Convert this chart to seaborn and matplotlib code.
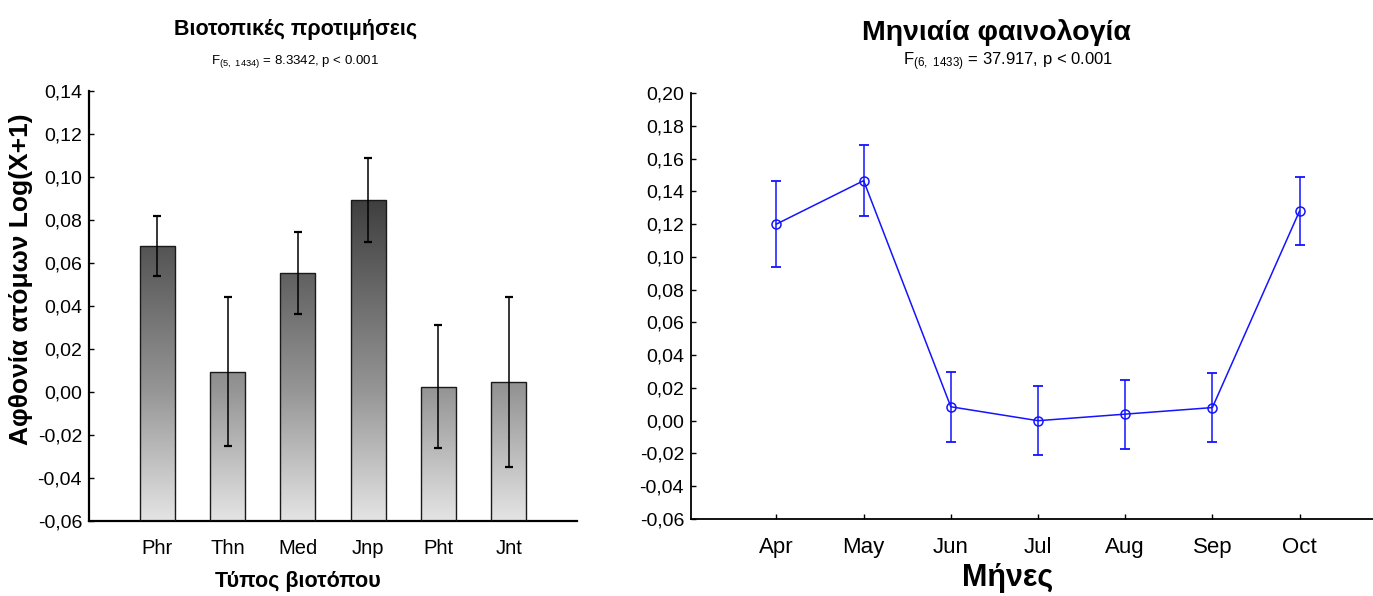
import numpy as np
import matplotlib
matplotlib.use("Agg")
import matplotlib.pyplot as plt
import seaborn as sns
from matplotlib.ticker import FuncFormatter
from matplotlib.colors import LinearSegmentedColormap

# ---- data ----
habitats = ["Phr", "Thn", "Med", "Jnp", "Pht", "Jnt"]
hab_mean = [0.068, 0.0095, 0.0555, 0.0895, 0.0025, 0.0045]
hab_err = [0.014, 0.0345, 0.019, 0.0195, 0.0285, 0.0395]

months = ["Apr", "May", "Jun", "Jul", "Aug", "Sep", "Oct"]
month_mean = [0.120, 0.1465, 0.0085, 0.000, 0.004, 0.008, 0.128]
month_err = [0.026, 0.0215, 0.0215, 0.021, 0.021, 0.021, 0.021]

left_yticks = [-0.06, -0.04, -0.02, 0.00, 0.02, 0.04, 0.06, 0.08, 0.10, 0.12, 0.14]
right_yticks = [-0.06, -0.04, -0.02, 0.00, 0.02, 0.04, 0.06, 0.08, 0.10, 0.12, 0.14, 0.16, 0.18, 0.20]

left_title = "Βιοτοπικές προτιμήσεις"
left_sub = r"F$_{(5,\ 1434)}$ = 8.3342, p < 0.001"
left_xlabel = "Τύπος βιοτόπου"
left_ylabel = "Αφθονία ατόμων Log(X+1)"
right_title = "Μηνιαία φαινολογία"
right_sub = r"F$_{(6,\ 1433)}$ = 37.917, p < 0.001"
right_xlabel = "Μήνες"

# ---- style ----
sns.set_theme(style="white")
plt.rcParams["font.family"] = ["Liberation Sans", "DejaVu Sans"]
plt.rcParams["mathtext.default"] = "regular"
plt.rcParams["axes.unicode_minus"] = False
plt.rcParams["text.color"] = "black"
plt.rcParams["axes.labelcolor"] = "black"
plt.rcParams["xtick.color"] = "black"
plt.rcParams["ytick.color"] = "black"

W, H = 1373, 596
fig = plt.figure(figsize=(W / 100, H / 100), dpi=100)
fig.patch.set_facecolor("white")

def fx(px):
    return px / W

def fy(py):
    return 1 - py / H

comma = FuncFormatter(lambda v, p: f"{v:.2f}".replace(".", ","))

# ---- left: bars ----
ax1 = fig.add_axes([fx(89), fy(521), fx(577 - 89), (521 - 91) / H])
ylo, yhi = -0.06, 0.14
sns.barplot(x=habitats, y=hab_mean, ax=ax1, width=0.5, color="gray",
            edgecolor="#1a1a1a", linewidth=1.0, errorbar=None)
ax1.set_ylim(ylo, yhi)
ax1.set_xlim(-0.97, 5.97)

cmap = LinearSegmentedColormap.from_list(
    "g", [(0.0, "#e4e4e4"), (0.3, "#969696"), (0.75, "#3e3e3e"), (1.0, "#2a2a2a")])
for p in ax1.patches:
    top = p.get_y() + p.get_height()
    p.set_y(ylo)
    p.set_height(top - ylo)
    p.set_facecolor("none")
    p.set_zorder(3)
    x0 = p.get_x()
    x1 = x0 + p.get_width()
    grad = np.linspace(1, 0, 256).reshape(-1, 1)
    im = ax1.imshow(grad, cmap=cmap, vmin=0, vmax=1, aspect="auto",
                    extent=[x0, x1, ylo, yhi], zorder=2, interpolation="bilinear")
    im.set_clip_path(p)

ax1.errorbar(np.arange(len(habitats)), hab_mean, yerr=hab_err, fmt="none",
             ecolor="black", elinewidth=1.1, capsize=3, capthick=1.6, zorder=4)
ax1.set_yticks(left_yticks)
ax1.yaxis.set_major_formatter(comma)
ax1.set_xlabel("")
ax1.set_ylabel("")

# ---- right: points ----
ax2 = fig.add_axes([fx(691), fy(519), fx(W - 691) + 0.01, (519 - 93) / H])
blue = "#1414ff"
sns.pointplot(x=months, y=month_mean, ax=ax2, color=blue, markers="o",
              errorbar=None, linewidth=1.1, markersize=6.5)
for ln in ax2.lines:
    ln.set_markerfacecolor("none")
    ln.set_markeredgewidth(1.1)
ax2.errorbar(np.arange(len(months)), month_mean, yerr=month_err, fmt="none",
             ecolor=blue, elinewidth=1.1, capsize=3.5, capthick=1.3, zorder=4)
ax2.set_ylim(-0.06, 0.20)
ax2.set_xlim(-0.98, 7.0)
ax2.set_yticks(right_yticks)
ax2.yaxis.set_major_formatter(comma)
ax2.set_xlabel("")
ax2.set_ylabel("")

for ax, lw, xls in ((ax1, 1.6, 14.5), (ax2, 1.3, 16)):
    for s in ("top", "right"):
        ax.spines[s].set_visible(False)
    for s in ("left", "bottom"):
        ax.spines[s].set_color("black")
        ax.spines[s].set_linewidth(lw)
    ax.set_facecolor("white")
    ax.grid(False)
    ax.tick_params(axis="both", direction="in", length=3.5, width=1.0,
                   color="black", labelcolor="black")
    ax.tick_params(axis="y", labelsize=14, pad=5)
    ax.tick_params(axis="x", labelsize=xls, pad=13)
    ax.tick_params(left=True, bottom=True)

# ---- texts ----
fig.text(fx(296), fy(30), left_title, ha="center", va="center",
         fontsize=15.5, fontweight="bold")
fig.text(fx(295), fy(62), left_sub, ha="center", va="center", fontsize=9.5)
fig.text(fx(298), fy(581), left_xlabel, ha="center", va="center",
         fontsize=15.5, fontweight="bold")
fig.text(fx(21), fy(279), left_ylabel, ha="center", va="center", rotation=90,
         fontsize=19, fontweight="bold")
fig.text(fx(996), fy(32), right_title, ha="center", va="center",
         fontsize=20.5, fontweight="bold")
fig.text(fx(1008), fy(62), right_sub, ha="center", va="center", fontsize=12)
fig.text(fx(1008), fy(578), right_xlabel, ha="center", va="center",
         fontsize=22, fontweight="bold")

fig.savefig("out.png", dpi=100, facecolor="white")
